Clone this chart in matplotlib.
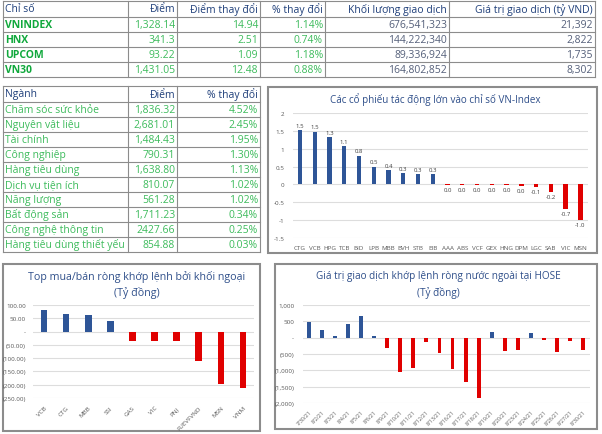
import matplotlib
matplotlib.use('Agg')
import matplotlib.pyplot as plt
from matplotlib.patches import Rectangle

plt.rcParams['font.family'] = ['Open Sans', 'DejaVu Sans']

W, H = 602, 435

# ---- data ----
idx_header = ['Chỉ số', 'Điểm', 'Điểm thay đổi', '% thay đổi', 'Khối lượng giao dịch', 'Giá trị giao dịch (tỷ VND)']
idx_names = ['VNINDEX', 'HNX', 'UPCOM', 'VN30']
idx_points = ['1,328.14', '341.3', '93.22', '1,431.05']
idx_change = ['14.94', '2.51', '1.09', '12.48']
idx_pct = ['1.14%', '0.74%', '1.18%', '0.88%']
idx_volume = ['676,541,323', '144,222,340', '89,336,924', '164,802,852']
idx_value = ['21,392', '2,822', '1,735', '8,302']

sec_header = ['Ngành', 'Điểm', '% thay đổi']
sec_names = ['Chăm sóc sức khỏe', 'Nguyên vật liệu', 'Tài chính', 'Công nghiệp', 'Hàng tiêu dùng',
             'Dịch vụ tiện ích', 'Năng lượng', 'Bất động sản', 'Công nghệ thông tin', 'Hàng tiêu dùng thiết yếu']
sec_points = ['1,836.32', '2,681.01', '1,484.43', '790.31', '1,638.80', '810.07', '561.28', '1,711.23', '2427.66', '854.88']
sec_pct = ['4.52%', '2.45%', '1.95%', '1.30%', '1.13%', '1.02%', '1.02%', '0.34%', '0.25%', '0.03%']

impact_tickers = ['CTG', 'VCB', 'HPG', 'TCB', 'BID', 'LPB', 'MBB', 'BVH', 'STB', 'EIB',
                  'AAA', 'ABS', 'VCF', 'GEX', 'HNG', 'DPM', 'LGC', 'SAB', 'VIC', 'MSN']
impact_values = [1.52, 1.48, 1.33, 1.08, 0.81, 0.50, 0.40, 0.32, 0.30, 0.30,
                 -0.01, -0.01, -0.01, -0.01, -0.01, -0.04, -0.06, -0.22, -0.68, -1.00]

foreign_tickers = ['VCB', 'CTG', 'MBB', 'SSI', 'GAS', 'VIC', 'PNJ', 'FUEVFVND', 'MSN', 'VNM']
foreign_values = [80, 68, 62, 41, -34, -36, -36, -109, -196, -211]

hose_dates = ['7/30/21', '8/2/21', '8/3/21', '8/4/21', '8/5/21', '8/6/21', '8/9/21', '8/10/21',
              '8/11/21', '8/12/21', '8/13/21', '8/16/21', '8/17/21', '8/18/21', '8/19/21', '8/20/21',
              '8/23/21', '8/24/21', '8/25/21', '8/26/21', '8/27/21', '8/30/21']
hose_values = [480, 235, 50, 408, 663, 45, -316, -1050, -930, -130, -460, -950,
               -1370, -1850, 165, -410, -380, 150, -80, -440, -110, -380]

# ---- colors ----
head_c = '#1F3F7A'
green_b = '#10A83C'
green_v = '#3DBB5C'
vol_c = '#55607A'
line_c = '#8C8C8C'
blue = '#2E5597'
red = '#E00000'
title_c = '#2F4F8A'
tick_c = '#595959'
grid_c = '#DDDDDD'


def box(x0, y0, x1, y1):
    return [x0 / W, 1 - y1 / H, (x1 - x0) / W, (y1 - y0) / H]


fig = plt.figure(figsize=(W / 100, H / 100), dpi=100)
bg = fig.add_axes([0, 0, 1, 1])
bg.set_xlim(0, W)
bg.set_ylim(H, 0)
bg.axis('off')


def draw_table(cols, rows, header, data, colors, weights):
    for y in rows:
        bg.plot([cols[0], cols[-1]], [y, y], color=line_c, lw=0.8)
    for x in cols:
        bg.plot([x, x], [rows[0], rows[-1]], color=line_c, lw=0.8)
    for j, h in enumerate(header):
        yc = (rows[0] + rows[1]) / 2
        if j == 0:
            bg.text(cols[0] + 2, yc, h, ha='left', va='center', fontsize=7.5, color=head_c)
        else:
            bg.text(cols[j + 1] - 2, yc, h, ha='right', va='center', fontsize=7.5, color=head_c)
    for j, col in enumerate(data):
        for i, s in enumerate(col):
            yc = (rows[i + 1] + rows[i + 2]) / 2
            if j == 0:
                bg.text(cols[0] + 2, yc, s, ha='left', va='center', fontsize=7.5,
                        color=colors[j], fontweight=weights[j])
            else:
                bg.text(cols[j + 1] - 2, yc, s, ha='right', va='center', fontsize=7.5,
                        color=colors[j], fontweight=weights[j])


# top index table
draw_table([3, 128, 177, 260, 325, 449, 595], [2, 18, 33, 48, 63, 78], idx_header,
           [idx_names, idx_points, idx_change, idx_pct, idx_volume, idx_value],
           [green_b, green_v, green_v, green_v, vol_c, vol_c],
           ['bold', 'normal', 'normal', 'normal', 'normal', 'normal'])

# sector table
sec_rows = [87, 103] + [103 + 15 * (i + 1) for i in range(10)]
draw_table([3, 128, 177, 260], sec_rows, sec_header,
           [sec_names, sec_points, sec_pct],
           [green_v, green_v, green_v], ['normal', 'normal', 'normal'])

# chart frames
for (x0, y0, x1, y1) in [(268, 88, 597, 254), (3, 265, 260, 432), (275, 265, 597, 430)]:
    bg.add_patch(Rectangle((x0, y0), x1 - x0, y1 - y0, fill=False, ec='#8C8C8C', lw=1.5))


def style_axes(ax):
    for s in ax.spines.values():
        s.set_visible(False)
    ax.tick_params(length=0, labelsize=4.5, labelcolor=tick_c)
    ax.grid(axis='y', color=grid_c, lw=0.8)
    ax.set_axisbelow(True)


# impact chart
ax1 = fig.add_axes(box(292.6, 114, 587.7, 239))
pos = range(len(impact_values))
ax1.bar(pos, impact_values, width=0.3,
        color=[blue if v >= 0 else red for v in impact_values])
for i, v in enumerate(impact_values):
    lab = f'{v:.1f}'.replace('-0.0', '0.0')
    if v >= 0:
        ax1.text(i, v + 0.06, lab, ha='center', va='bottom', fontsize=4.3, color='#404040')
    else:
        ax1.text(i, v - 0.06, lab, ha='center', va='top', fontsize=4.3, color='#404040')
ax1.set_ylim(-1.5, 2)
ax1.set_xlim(-0.5, len(impact_values) - 0.5)
ax1.set_yticks([2, 1.5, 1, 0.5, 0, -0.5, -1, -1.5])
ax1.set_yticklabels(['2', '1.5', '1', '0.5', '0', '-0.5', '-1', '-1.5'])
ax1.set_xticks(list(pos))
ax1.set_xticklabels(impact_tickers)
style_axes(ax1)
ax1.tick_params(axis='x', pad=5)
ax1.tick_params(axis='y', pad=6)
fig.text(435 / W, 1 - 100 / H, 'Các cổ phiếu tác động lớn vào chỉ số VN-Index',
         ha='center', va='center', fontsize=7.1, color=title_c)

# foreign top buy/sell
ax2 = fig.add_axes(box(33, 306, 254, 399))
pos2 = range(len(foreign_values))
ax2.bar(pos2, foreign_values, width=0.3,
        color=[blue if v >= 0 else red for v in foreign_values])
ax2.set_ylim(-250, 100)
ax2.set_xlim(-0.5, len(foreign_values) - 0.5)
ax2.set_yticks([100, 50, 0, -50, -100, -150, -200, -250])
ax2.set_yticklabels(['100.00', '50.00', '-', '(50.00)', '(100.00)', '(150.00)', '(200.00)', '(250.00)'])
ax2.set_xticks(list(pos2))
ax2.set_xticklabels(foreign_tickers, rotation=45, ha='right', rotation_mode='anchor')
style_axes(ax2)
ax2.tick_params(axis='x', pad=5)
ax2.tick_params(axis='y', pad=5)
fig.text(137 / W, 1 - 277 / H, 'Top mua/bán ròng khớp lệnh bởi khối ngoại',
         ha='center', va='center', fontsize=7.7, color=title_c)
fig.text(137 / W, 1 - 293 / H, '(Tỷ đồng)', ha='center', va='center', fontsize=7.7, color=title_c)

# HOSE net foreign value
ax3 = fig.add_axes(box(302.5, 306, 589.5, 404))
pos3 = range(len(hose_values))
ax3.bar(pos3, hose_values, width=0.3,
        color=[blue if v >= 0 else red for v in hose_values])
ax3.set_ylim(-2000, 1000)
ax3.set_xlim(-0.5, len(hose_values) - 0.5)
ax3.set_yticks([1000, 500, 0, -500, -1000, -1500, -2000])
ax3.set_yticklabels(['1,000', '500', '-', '(500)', '(1,000)', '(1,500)', '(2,000)'])
ax3.set_xticks(list(pos3))
ax3.set_xticklabels(hose_dates, rotation=45, ha='right', rotation_mode='anchor')
style_axes(ax3)
ax3.tick_params(axis='x', labelsize=3.8, pad=4)
ax3.tick_params(axis='y', pad=6)
fig.text(438 / W, 1 - 277 / H, 'Giá trị giao dịch khớp lệnh ròng nước ngoài tại HOSE',
         ha='center', va='center', fontsize=7.2, color=title_c)
fig.text(438 / W, 1 - 293 / H, '(Tỷ đồng)', ha='center', va='center', fontsize=7.2, color=title_c)

fig.savefig('out.png', dpi=100)
